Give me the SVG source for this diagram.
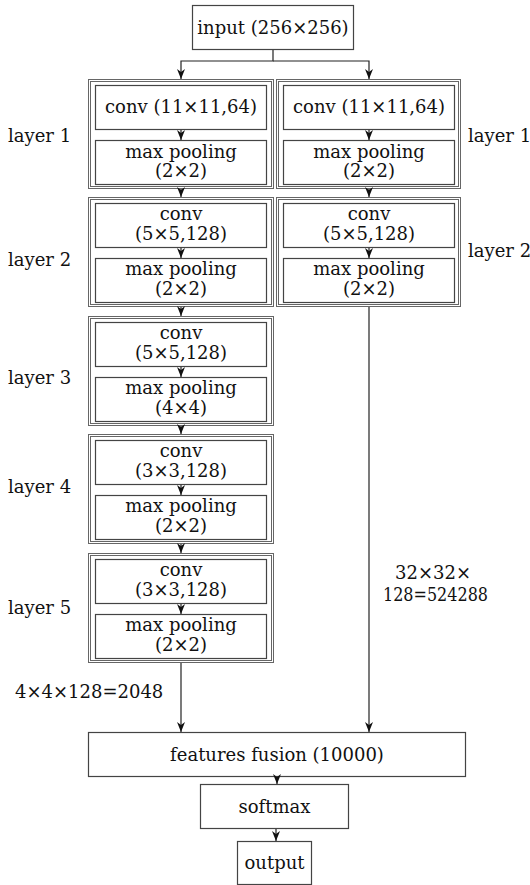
<svg xmlns="http://www.w3.org/2000/svg" width="530" height="885" viewBox="0 0 530 885">
<style>
text{font-family:"DejaVu Serif","Liberation Serif",serif;font-size:18px;fill:#111}
.c{text-anchor:middle}
.box{fill:#fff;stroke:#444;stroke-width:1.2}
.outer{fill:none;stroke:#666;stroke-width:1}
.ln{fill:none;stroke:#222;stroke-width:1.2}
</style>
<defs>
<marker id="ah" viewBox="0 0 10 8" refX="10" refY="4" markerWidth="10" markerHeight="8" markerUnits="userSpaceOnUse" orient="auto">
<path d="M0,0 L10,4 L0,8 L3,4 z" fill="#111"/>
</marker>
</defs>
<rect width="530" height="885" fill="#fff"/>

<g id="input"><rect class="box" x="192.5" y="5.5" width="161" height="44"/><text class="c" x="273" y="34">input (256×256)</text></g>

<g id="L1-left">
<rect class="outer" x="88.5" y="79.5" width="185" height="109"/><rect class="outer" x="90.5" y="81.5" width="181" height="105"/>
<rect class="box" x="95.5" y="85.5" width="171" height="44"/><text class="c" x="181" y="113">conv (11×11,64)</text>
<rect class="box" x="95.5" y="140.5" width="171" height="44"/><text class="c" x="181" y="158">max pooling</text><text class="c" x="181" y="177">(2×2)</text>
</g>
<g id="L1-right">
<rect class="outer" x="276.5" y="79.5" width="184" height="109"/><rect class="outer" x="278.5" y="81.5" width="180" height="105"/>
<rect class="box" x="283.5" y="85.5" width="171" height="44"/><text class="c" x="369" y="113">conv (11×11,64)</text>
<rect class="box" x="283.5" y="140.5" width="171" height="44"/><text class="c" x="369" y="158">max pooling</text><text class="c" x="369" y="177">(2×2)</text>
</g>

<g id="L2-left">
<rect class="outer" x="88.5" y="197.5" width="185" height="109"/><rect class="outer" x="90.5" y="199.5" width="181" height="105"/>
<rect class="box" x="95.5" y="203.5" width="171" height="44"/><text class="c" x="181" y="220">conv</text><text class="c" x="181" y="240">(5×5,128)</text>
<rect class="box" x="95.5" y="258.5" width="171" height="44"/><text class="c" x="181" y="275">max pooling</text><text class="c" x="181" y="295">(2×2)</text>
</g>
<g id="L2-right">
<rect class="outer" x="276.5" y="197.5" width="184" height="109"/><rect class="outer" x="278.5" y="199.5" width="180" height="105"/>
<rect class="box" x="283.5" y="203.5" width="171" height="44"/><text class="c" x="369" y="220">conv</text><text class="c" x="369" y="240">(5×5,128)</text>
<rect class="box" x="283.5" y="258.5" width="171" height="44"/><text class="c" x="369" y="275">max pooling</text><text class="c" x="369" y="295">(2×2)</text>
</g>

<g id="L3">
<rect class="outer" x="88.5" y="316.5" width="185" height="109"/><rect class="outer" x="90.5" y="318.5" width="181" height="105"/>
<rect class="box" x="95.5" y="322.5" width="171" height="44"/><text class="c" x="181" y="339">conv</text><text class="c" x="181" y="359">(5×5,128)</text>
<rect class="box" x="95.5" y="377.5" width="171" height="44"/><text class="c" x="181" y="394">max pooling</text><text class="c" x="181" y="414">(4×4)</text>
</g>

<g id="L4">
<rect class="outer" x="88.5" y="434.5" width="185" height="109"/><rect class="outer" x="90.5" y="436.5" width="181" height="105"/>
<rect class="box" x="95.5" y="440.5" width="171" height="44"/><text class="c" x="181" y="457">conv</text><text class="c" x="181" y="477">(3×3,128)</text>
<rect class="box" x="95.5" y="495.5" width="171" height="44"/><text class="c" x="181" y="512">max pooling</text><text class="c" x="181" y="532">(2×2)</text>
</g>

<g id="L5">
<rect class="outer" x="88.5" y="553.5" width="185" height="109"/><rect class="outer" x="90.5" y="555.5" width="181" height="105"/>
<rect class="box" x="95.5" y="559.5" width="171" height="44"/><text class="c" x="181" y="576">conv</text><text class="c" x="181" y="596">(3×3,128)</text>
<rect class="box" x="95.5" y="614.5" width="171" height="44"/><text class="c" x="181" y="631">max pooling</text><text class="c" x="181" y="651">(2×2)</text>
</g>

<g id="fusion"><rect class="box" x="88.5" y="732.5" width="377" height="44"/><text class="c" x="277" y="761">features fusion (10000)</text></g>
<g id="softmax"><rect class="box" x="200.5" y="784.5" width="148" height="44"/><text class="c" x="274.5" y="813">softmax</text></g>
<g id="output"><rect class="box" x="237.5" y="841.5" width="74" height="43"/><text class="c" x="274.5" y="869">output</text></g>

<g id="labels">
<text x="8" y="142">layer 1</text>
<text x="8" y="266">layer 2</text>
<text x="8" y="384">layer 3</text>
<text x="8" y="493">layer 4</text>
<text x="8" y="614">layer 5</text>
<text x="468" y="142">layer 1</text>
<text x="468" y="257">layer 2</text>
<text x="15" y="698">4×4×128=2048</text>
<text x="395" y="579">32×32×</text>
<text x="383" y="601" textLength="105" lengthAdjust="spacingAndGlyphs">128=524288</text>
</g>

<g id="connectors" class="ln" marker-end="url(#ah)">
<path d="M273,50 V61 H181 V79"/>
<path d="M273,61 H369 V79"/>
<path d="M181,130 V140"/>
<path d="M369,130 V140"/>
<path d="M181,189 V197"/>
<path d="M369,189 V197"/>
<path d="M181,248 V258"/>
<path d="M369,248 V258"/>
<path d="M181,307 V316"/>
<path d="M181,367 V377"/>
<path d="M181,426 V434"/>
<path d="M181,485 V495"/>
<path d="M181,544 V553"/>
<path d="M181,604 V614"/>
<path d="M181,663 V732"/>
<path d="M369,307 V732"/>
<path d="M277,777 V784"/>
<path d="M276,829 V841"/>
</g>
</svg>
